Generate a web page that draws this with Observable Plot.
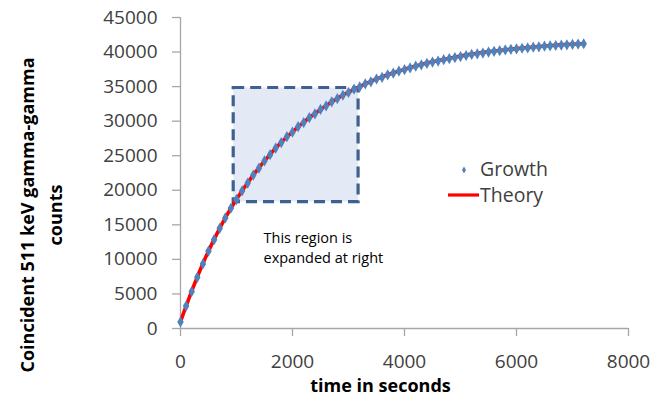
<!DOCTYPE html>
<html>
<head>
<meta charset="utf-8">
<script src="https://cdn.jsdelivr.net/npm/d3@7"></script>
<script src="https://cdn.jsdelivr.net/npm/@observablehq/plot@0.6"></script>
<style>
  html, body { margin: 0; padding: 0; background: #ffffff; }
  #chart { width: 669px; height: 401px; }
</style>
</head>
<body>
<div id="chart"></div>
<script>
// ---- data ----
const growthTime = [0,100,200,300,400,500,600,700,800,900,1000,1100,1200,1300,1400,1500,1600,1700,1800,1900,
  2000,2100,2200,2300,2400,2500,2600,2700,2800,2900,3000,3100,3200,3300,3400,3500,3600,3700,3800,3900,
  4000,4100,4200,4300,4400,4500,4600,4700,4800,4900,5000,5100,5200,5300,5400,5500,5600,5700,5800,5900,
  6000,6100,6200,6300,6400,6500,6600,6700,6800,6900,7000,7100,7200];
const growthCounts = [950,3250,5350,7400,9350,11200,12850,14500,16000,17400,18650,19900,21050,22200,23200,24250,25150,26100,26900,27750,
  28400,29200,29800,30500,31050,31700,32200,32800,33250,33750,34150,34650,34950,35400,35700,36100,36350,36700,36950,37250,
  37450,37700,37950,38150,38350,38550,38700,38900,39050,39200,39350,39500,39650,39750,39850,40000,40100,40200,40300,40400,
  40450,40550,40600,40700,40750,40850,40900,40950,41000,41050,41100,41150,41200];
const theoryTime = [0,200,400,600,800,1000,1200,1400,1600,1800,2000,2200,2400,2600,2800,3000,3200,3400,3600,3800,
  4000,4400,4800,5200,5600,6000,6400,6800,7200];
const theoryCounts = [1000,5400,9400,12900,16000,18700,21100,23250,25200,26950,28450,29850,31100,32250,33300,34200,35000,35750,36400,37000,
  37500,38400,39100,39700,40150,40500,40800,41050,41200];
const xTicks = [0, 2000, 4000, 6000, 8000];
const yTicks = [0, 5000, 10000, 15000, 20000, 25000, 30000, 35000, 40000, 45000];
const regionX = [950, 3180];
const regionY = [18300, 34800];
const legendLabels = ["Growth", "Theory"];
const xTitle = "time in seconds";
const yTitle = "Coincident 511 keV gamma-gamma\ncounts";
const note = "This region is\nexpanded at right";

// ---- tables built from the arrays ----
const growth = growthTime.map((t, i) => ({t, c: growthCounts[i]}));
const theory = theoryTime.map((t, i) => ({t, c: theoryCounts[i]}));
const region = [{x1: regionX[0], x2: regionX[1], y1: regionY[0], y2: regionY[1]}];

const axisGray = "#a6a6a6";
const labelColor = "#404040";
const font = "'Open Sans', sans-serif";

const chart = Plot.plot({
  width: 669,
  height: 401,
  marginLeft: 180,
  marginRight: 41,
  marginTop: 17,
  marginBottom: 73,
  style: {fontFamily: font, background: "#ffffff", color: labelColor},
  x: {domain: [0, 8000]},
  y: {domain: [0, 45000]},
  marks: [
    Plot.rect(region, {x1: "x1", x2: "x2", y1: "y1", y2: "y2", fill: "#e3e9f5", stroke: "#3d6190", strokeWidth: 3.2, strokeDasharray: "11,6"}),
    Plot.axisY(yTicks, {tickSize: 8, tickPadding: 15, fontSize: 19, tickFormat: d3.format("d"), label: null, stroke: axisGray, strokeWidth: 1.3, fill: labelColor}),
    Plot.axisX(xTicks, {tickSize: 8, tickPadding: 18, fontSize: 19, tickFormat: d3.format("d"), label: null, stroke: axisGray, strokeWidth: 1.3, fill: labelColor}),
    Plot.ruleX([0], {stroke: axisGray, strokeWidth: 1.3}),
    Plot.ruleY([0], {stroke: axisGray, strokeWidth: 1.3}),
    Plot.line(theory, {x: "t", y: "c", stroke: "#ff0000", strokeWidth: 3.6, curve: "monotone-x"}),
    Plot.dot(growth, {x: "t", y: "c", symbol: "diamond", r: 3.4, fill: "#4f81bd", stroke: "none"}),
    Plot.text([xTitle], {frameAnchor: "bottom", textAnchor: "middle", lineAnchor: "middle", dx: -24, dy: 58, fontSize: 18, fontWeight: "bold", fill: "#000000"}),
    Plot.text([yTitle], {frameAnchor: "left", textAnchor: "middle", lineAnchor: "middle", rotate: -90, dx: -141, dy: 42, fontSize: 18, fontWeight: "bold", lineHeight: 1.55, fill: "#000000"}),
    Plot.text([note], {frameAnchor: "top-left", textAnchor: "start", lineAnchor: "top", dx: 83, dy: 211, fontSize: 14.5, lineHeight: 1.38, fill: "#000000"})
  ]
});

document.getElementById("chart").appendChild(chart);

// ---- legend ----
const svg = d3.select(chart);
const lg = svg.append("g").attr("font-family", font).attr("font-size", 19.5).attr("fill", labelColor).attr("text-anchor", "start");
lg.append("path")
  .attr("d", d3.symbol(d3.symbolDiamond, 14)())
  .attr("transform", "translate(464,170)")
  .attr("fill", "#4f81bd");
lg.append("text").attr("x", 480).attr("y", 176).text(legendLabels[0]);
lg.append("line").attr("x1", 448).attr("x2", 479).attr("y1", 195).attr("y2", 195)
  .attr("stroke", "#ff0000").attr("stroke-width", 3.2);
lg.append("text").attr("x", 480).attr("y", 202).text(legendLabels[1]);
</script>
</body>
</html>
